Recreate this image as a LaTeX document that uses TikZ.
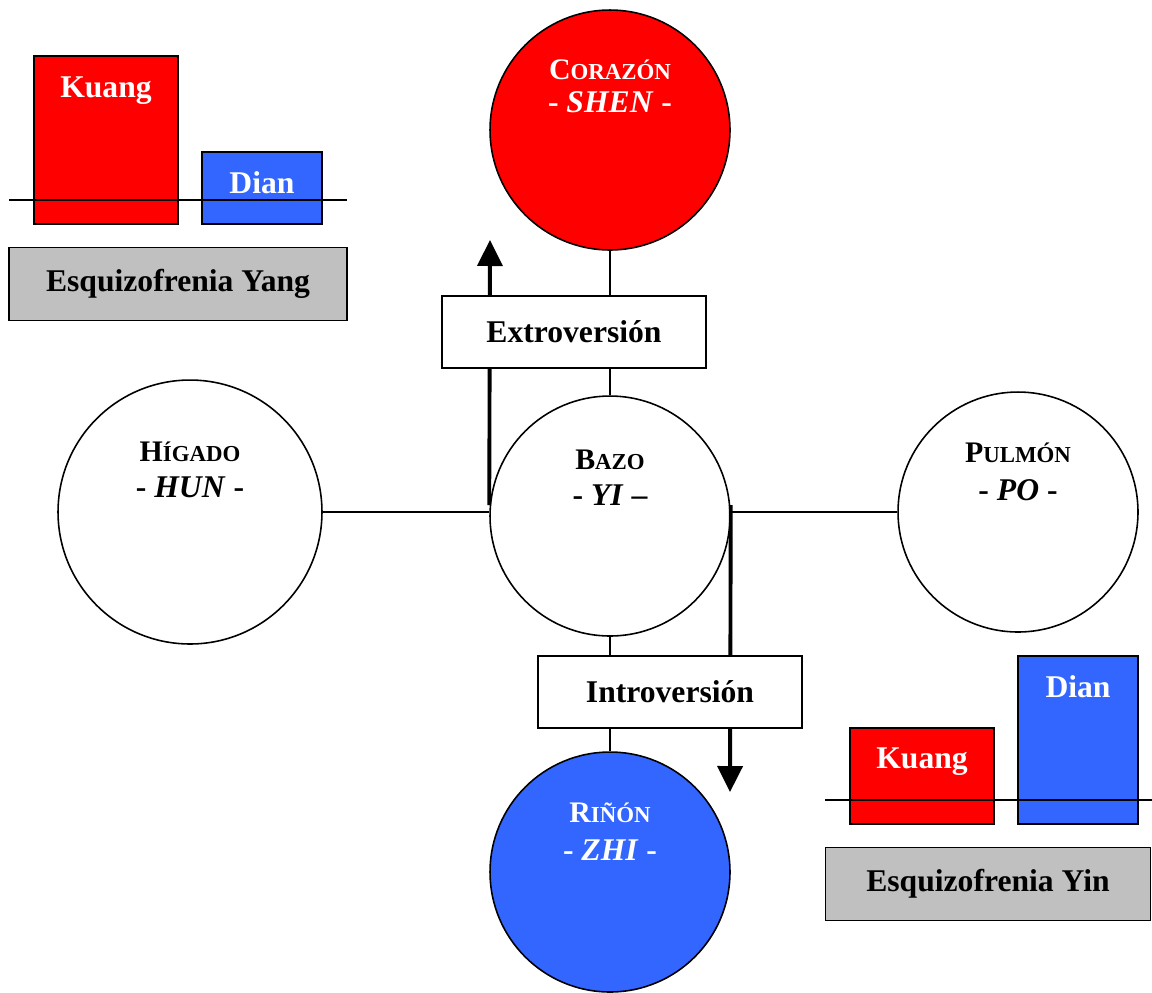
\documentclass[tikz,border=0pt]{standalone}
\usepackage{fontspec}
\setmainfont{Liberation Serif}
\usetikzlibrary{arrows.meta,calc}
\definecolor{kred}{HTML}{FF0000}
\definecolor{dblue}{HTML}{3366FF}
\definecolor{sgray}{HTML}{C0C0C0}
\newcommand{\bigF}{\fontsize{18}{21}\selectfont\bfseries}
\newcommand{\capF}{\fontsize{17}{20}\selectfont\bfseries}
\newcommand{\scF}{\fontsize{13}{15}\selectfont\bfseries}
\tikzset{
  organ/.style={circle,draw=black,line width=0.9pt,minimum size=4.8cm,inner sep=0pt},
  bar/.style={draw=black,line width=0.9pt},
  lbl/.style={inner sep=0pt,font=\bigF},
  thin/.style={line width=0.8pt},
  big/.style={line width=2.2pt,-{Triangle[width=0.5cm,length=0.52cm]}},
  tbox/.style={draw=black,fill=white,line width=0.9pt,minimum width=5.28cm,minimum height=1.44cm,inner sep=0pt,font=\bigF},
  gbox/.style={draw=black,fill=sgray,line width=0.9pt,inner sep=0pt,font=\bigF}
}
\begin{document}
\begin{tikzpicture}[x=0.02cm,y=-0.02cm]
\useasboundingbox (0,0) rectangle (1152,992);
% organs
\node[organ,fill=kred] (cor) at (610,130) {};
\node[organ,fill=white] (baz) at (610,516) {};
\node[organ,fill=white,minimum size=5.28cm] (hig) at (190,512) {};
\node[organ,fill=white] (pul) at (1018,512) {};
\node[organ,fill=dblue] (rin) at (610,872) {};
% connectors
\draw[thin] (hig.east) -- (hig.east -| baz.west);
\draw[thin] (baz.east |- pul.west) -- (pul.west);
\draw[thin] (cor.south) -- (baz.north);
\draw[thin] (baz.south) -- (rin.north);
% arrows
\coordinate (upstart) at ($(baz.west)+(0,-11)$);
\coordinate (uptip) at (490,240);
\coordinate (dnstart) at ($(baz.east)+(0,-11)$);
\coordinate (dntip) at (730,792);
\draw[big] (upstart) -- (uptip);
\draw[big] (dnstart) -- (dntip);
% boxes
\node[tbox] (ext) at (574,332) {Extroversión};
\node[tbox] (int) at (670,692) {Introversión};
% organ labels
\node[lbl,text=white] (corT) at ($(cor)+(0,-60)$) {\capF C\scF ORAZÓN};
\node[lbl,text=white] (corS) at ($(cor)+(0,-28)$) {- \textit{SHEN} -};
\node[lbl] (bazT) at ($(baz)+(0,-56)$) {\capF B\scF AZO};
\node[lbl] (bazS) at ($(baz)+(0,-21)$) {- \textit{YI} --};
\node[lbl] (higT) at ($(hig)+(0,-60)$) {\capF H\scF ÍGADO};
\node[lbl] (higS) at ($(hig)+(0,-25)$) {- \textit{HUN} -};
\node[lbl] (pulT) at ($(pul)+(0,-59)$) {\capF P\scF ULMÓN};
\node[lbl] (pulS) at ($(pul)+(0,-22)$) {- \textit{PO} -};
\node[lbl,text=white] (rinT) at ($(rin)+(0,-59)$) {\capF R\scF IÑÓN};
\node[lbl,text=white] (rinS) at ($(rin)+(0,-22)$) {- \textit{ZHI} -};
% Yang panel
\draw[bar,fill=kred] (34,56) rectangle (178,224);
\draw[bar,fill=dblue] (202,152) rectangle (322,224);
\draw[thin] (9,200) -- (347,200);
\node[lbl,text=white] (k1) at (106,91) {Kuang};
\node[lbl,text=white] (d1) at (262,183) {Dian};
\node[gbox,minimum width=6.76cm,minimum height=1.46cm] (yang) at (178,284) {Esquizofrenia Yang};
% Yin panel
\draw[bar,fill=kred] (850,728) rectangle (994,824);
\draw[bar,fill=dblue] (1018,656) rectangle (1138,824);
\draw[thin] (825,800) -- (1152,800);
\node[lbl,text=white] (k2) at (922,762) {Kuang};
\node[lbl,text=white] (d2) at (1078,687) {Dian};
\node[gbox,minimum width=6.5cm,minimum height=1.46cm] (yin) at (988,884) {Esquizofrenia Yin};
\end{tikzpicture}
\end{document}
